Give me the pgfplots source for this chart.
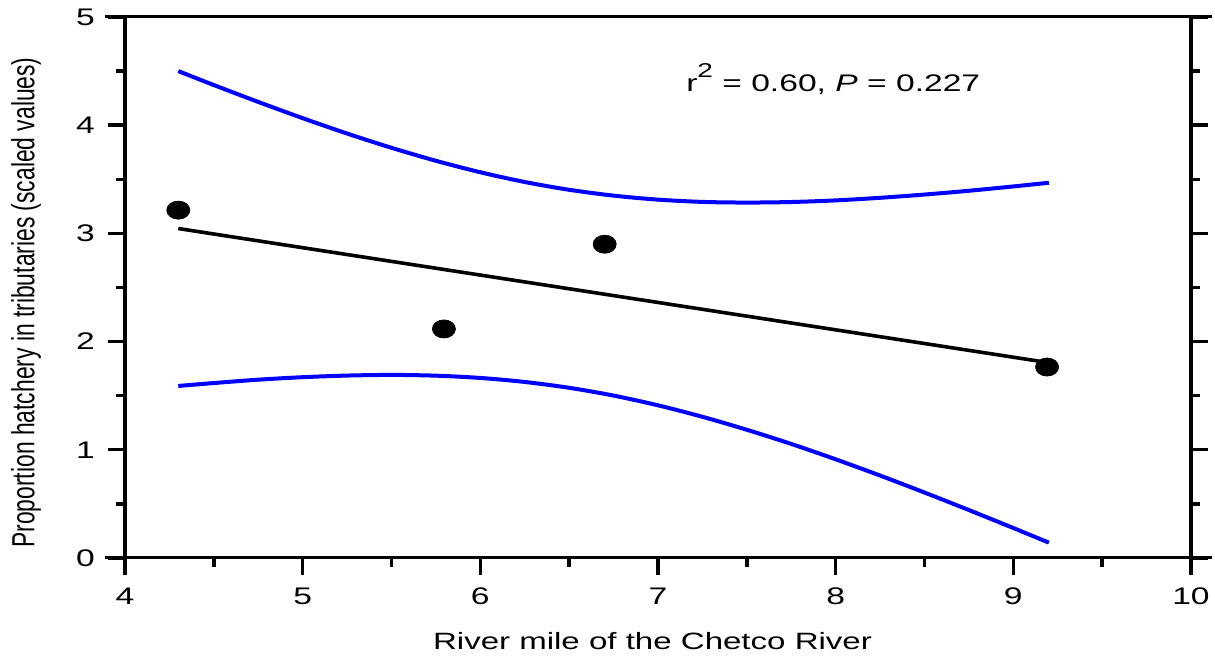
\documentclass[border=0pt]{standalone}
\usepackage{fontspec}
\setmainfont{Liberation Sans}[FakeStretch=1.4]
\newfontfamily\ylabfont{Liberation Sans}[FakeStretch=0.714]
\usepackage{pgfplots}
\pgfplotsset{compat=1.18}
\definecolor{cblue}{RGB}{0,0,255}
\begin{document}
\begin{tikzpicture}
\path[use as bounding box] (-62.5pt,-49pt) rectangle (545pt,279pt);
\begin{axis}[
  at={(0,0)}, anchor=south west, scale only axis,
  width=533pt, height=270.5pt,
  xmin=4, xmax=10, ymin=0, ymax=5,
  xtick={4,5,6,7,8,9,10}, ytick={0,1,2,3,4,5},
  minor x tick num=1, minor y tick num=1,
  xtick pos=left, ytick pos=both, tick align=outside,
  major tick length=8.5pt, minor tick length=4.5pt,
  tick style={line width=1.7pt, black},
  axis line style={line width=1.5pt},
  /pgf/number format/assume math mode=true,
  ticklabel style={font=\fontsize{12}{14}\selectfont},
  xticklabel style={yshift=-3pt},
  yticklabel style={xshift=-3pt},
  xlabel={River mile of the Chetco River},
  ylabel={Proportion hatchery in tributaries (scaled values)},
  every axis x label/.style={at={([xshift=-2.75pt,yshift=-46pt]rel axis cs:0.5,0)}, anchor=base, font=\fontsize{11.8}{14}\selectfont},
  every axis y label/.style={at={([xshift=-49.5pt,yshift=-7.5pt]rel axis cs:0,0.5)}, rotate=90, anchor=center, font=\ylabfont\fontsize{16}{18}\selectfont},
  clip=false,
]
\addplot[cblue, line width=2pt, smooth] coordinates {
(4.3,4.500) (4.5,4.371) (4.75,4.215) (5.0,4.065) (5.25,3.923) (5.5,3.791)
(5.75,3.671) (6.0,3.565) (6.25,3.475) (6.5,3.403) (6.75,3.349) (7.0,3.312)
(7.25,3.291) (7.5,3.285) (7.75,3.290) (8.0,3.305) (8.25,3.329) (8.5,3.359)
(8.75,3.394) (9.0,3.434) (9.2,3.468)};
\addplot[cblue, line width=2pt, smooth] coordinates {
(4.3,1.590) (4.5,1.617) (4.75,1.648) (5.0,1.671) (5.25,1.686) (5.5,1.692)
(5.75,1.685) (6.0,1.664) (6.25,1.627) (6.5,1.573) (6.75,1.501) (7.0,1.411)
(7.25,1.305) (7.5,1.185) (7.75,1.054) (8.0,0.912) (8.25,0.762) (8.5,0.605)
(8.75,0.443) (9.0,0.277) (9.2,0.142)};
\addplot[black, line width=1.8pt] coordinates {(4.3,3.045) (9.2,1.805)};
\addplot[only marks, mark=*, mark size=4.5pt, mark options={xscale=1.28, fill=black, draw=black}] coordinates {
(4.3,3.215) (5.795,2.117) (6.70,2.90) (9.19,1.765)};
\node[anchor=base west, inner sep=0pt, font=\fontsize{12}{14}\selectfont] at (axis cs:7.157,4.307)
  {r\raisebox{7pt}{\fontsize{10}{10}\selectfont 2} = 0.60,\ \textit{P} = 0.227};
\draw[line width=1.5pt] ([xshift=-10pt]rel axis cs:0,0) -- ([xshift=10.5pt]rel axis cs:1,0);
\draw[line width=1.5pt] ([xshift=-10pt]rel axis cs:0,1) -- ([xshift=10.5pt]rel axis cs:1,1);
\draw[line width=2pt] (rel axis cs:0,1) -- ([yshift=-7.5pt]rel axis cs:0,0);
\draw[line width=2pt] (rel axis cs:1,1) -- ([yshift=-7.5pt]rel axis cs:1,0);
\end{axis}
\end{tikzpicture}
\end{document}
